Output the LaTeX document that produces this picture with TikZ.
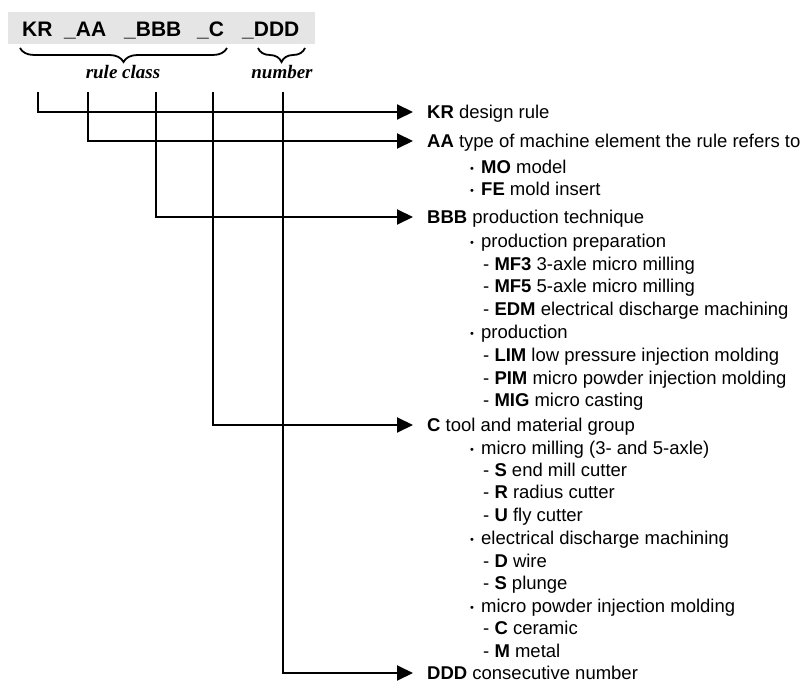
\documentclass[tikz,border=0pt]{standalone}
\usepackage{fontspec}
\setmainfont{Liberation Sans}
\newfontfamily\serifbi{Liberation Serif}
\usetikzlibrary{arrows.meta,decorations.pathreplacing}
\newcommand\bul{\makebox[11pt][l]{\raisebox{1.2pt}{\fontsize{11}{11}\selectfont\textbullet}}}
\begin{document}
\begin{tikzpicture}[x=1pt,y=-1pt,
  code/.style={font=\fontsize{21}{25}\selectfont\bfseries, anchor=base west, inner sep=0pt},
  hdr/.style={font=\fontsize{18.5}{22}\selectfont, anchor=west, inner sep=0pt, text height=13.2pt, text depth=0pt},
  itm/.style={font=\fontsize{18.5}{22}\selectfont, anchor=base west, inner sep=0pt},
  conn/.style={line width=2pt, -{Triangle[length=16pt,width=15pt]}, shorten >=14pt},
  brc/.style={decorate, decoration={brace, amplitude=14pt, mirror}, line width=1.8pt},
  lbl/.style={font=\serifbi\bfseries\itshape\fontsize{19}{22}\selectfont, inner sep=0pt, anchor=base}
]
\useasboundingbox (0,0) rectangle (808,684);
% code box
\fill[black!10] (8,12) rectangle (315,44);
\node[code] (kr)  at (22,37)  {KR};
\node[code] (aa)  at (64,37)  {\char95 AA};
\node[code] (bbb) at (124,37) {\char95 BBB};
\node[code] (cc)  at (197,37) {\char95 C};
\node[code] (ddd) at (242,37) {\char95 DDD};
% braces
\draw[brc] (20,48) -- (227,48);
\draw[brc] (258,48) -- (305,48);
\node[lbl] (rc) at (123,79) {rule class};
\node[lbl] (nb) at (282,79) {number};
% connector start points
\coordinate (vKR)  at (38,92);
\coordinate (vAA)  at (88,92);
\coordinate (vBBB) at (156,92);
\coordinate (vC)   at (213,92);
\coordinate (vDDD) at (283,92);
% headers
\node[hdr] (hKR)  at (427,112) {\textbf{KR} design rule};
\node[hdr] (hAA)  at (427,141) {\textbf{AA} type of machine element the rule refers to};
\node[hdr] (hBBB) at (427,217) {\textbf{BBB} production technique};
\node[hdr] (hC)   at (427,425) {\textbf{C} tool and material group};
\node[hdr] (hDDD) at (427,673) {\textbf{DDD} consecutive number};
% items
\node[itm] (iMO)  at (470,173.6) {\bul\textbf{MO} model};
\node[itm] (iFE)  at (470,195.6) {\bul\textbf{FE} mold insert};
\node[itm] (iPP)  at (470,247.6) {\bul production preparation};
\node[itm] (iMF3) at (483,270.6) {- \textbf{MF3} 3-axle micro milling};
\node[itm] (iMF5) at (483,292.6) {- \textbf{MF5} 5-axle micro milling};
\node[itm] (iEDM) at (483,315.6) {- \textbf{EDM} electrical discharge machining};
\node[itm] (iPR)  at (470,338.6) {\bul production};
\node[itm] (iLIM) at (483,361.6) {- \textbf{LIM} low pressure injection molding};
\node[itm] (iPIM) at (483,384.6) {- \textbf{PIM} micro powder injection molding};
\node[itm] (iMIG) at (483,406.6) {- \textbf{MIG} micro casting};
\node[itm] (iMM)  at (470,454.6) {\bul micro milling (3- and 5-axle)};
\node[itm] (iS)   at (483,476.6) {- \textbf{S} end mill cutter};
\node[itm] (iR)   at (483,498.6) {- \textbf{R} radius cutter};
\node[itm] (iU)   at (483,521.6) {- \textbf{U} fly cutter};
\node[itm] (iED)  at (470,544.6) {\bul electrical discharge machining};
\node[itm] (iD)   at (483,567.6) {- \textbf{D} wire};
\node[itm] (iSP)  at (483,589.6) {- \textbf{S} plunge};
\node[itm] (iMP)  at (470,612.6) {\bul micro powder injection molding};
\node[itm] (iCC)  at (483,634.6) {- \textbf{C} ceramic};
\node[itm] (iMT)  at (483,657.6) {- \textbf{M} metal};
% connectors
\draw[conn] (vKR)  |- (hKR.west);
\draw[conn] (vAA)  |- (hAA.west);
\draw[conn] (vBBB) |- (hBBB.west);
\draw[conn] (vC)   |- (hC.west);
\draw[conn] (vDDD) |- (hDDD.west);
\end{tikzpicture}
\end{document}
